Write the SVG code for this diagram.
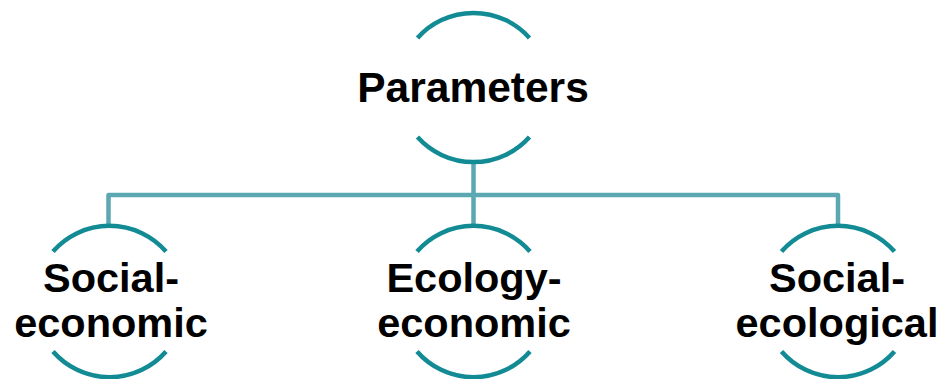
<svg xmlns="http://www.w3.org/2000/svg" width="945" height="379" viewBox="0 0 945 379">
<style>
.arc{fill:none;stroke:#128b95;stroke-width:4.5;stroke-linecap:butt}
.conn{fill:none;stroke:#5ca8b2;stroke-width:4.5;stroke-linejoin:round}
.t{font-family:"Liberation Sans",Arial,sans-serif;font-weight:bold;fill:#000;text-anchor:middle}
</style>
<rect width="945" height="379" fill="#fff"/>
<g id="connectors">
<path class="conn" d="M473.5,162 V195 M108.5,226 V195 H838 V226 M473.5,195 V226"/>
</g>
<g id="parameters">
<path class="arc" d="M417.5,38 A75,75 0 0,1 529.5,38"/>
<path class="arc" d="M417.5,137 A75,75 0 0,0 529.5,137"/>
<text class="t" x="473" y="102" font-size="42.5">Parameters</text>
</g>
<g id="social-economic">
<path class="arc" d="M53,251.5 A75,75 0 0,1 166,251.5"/>
<path class="arc" d="M53,351.5 A75,75 0 0,0 166,351.5"/>
<text class="t" x="111" y="292" font-size="41.5">Social-</text>
<text class="t" x="111" y="337" font-size="41.5">economic</text>
</g>
<g id="ecology-economic">
<path class="arc" d="M417,251.5 A75,75 0 0,1 530,251.5"/>
<path class="arc" d="M417,351.5 A75,75 0 0,0 530,351.5"/>
<text class="t" x="474" y="292" font-size="41.5">Ecology-</text>
<text class="t" x="474" y="337" font-size="41.5">economic</text>
</g>
<g id="social-ecological">
<path class="arc" d="M781.5,251.5 A75,75 0 0,1 894.5,251.5"/>
<path class="arc" d="M781.5,351.5 A75,75 0 0,0 894.5,351.5"/>
<text class="t" x="837" y="292" font-size="41.5">Social-</text>
<text class="t" x="837" y="337" font-size="41.5">ecological</text>
</g>
</svg>
